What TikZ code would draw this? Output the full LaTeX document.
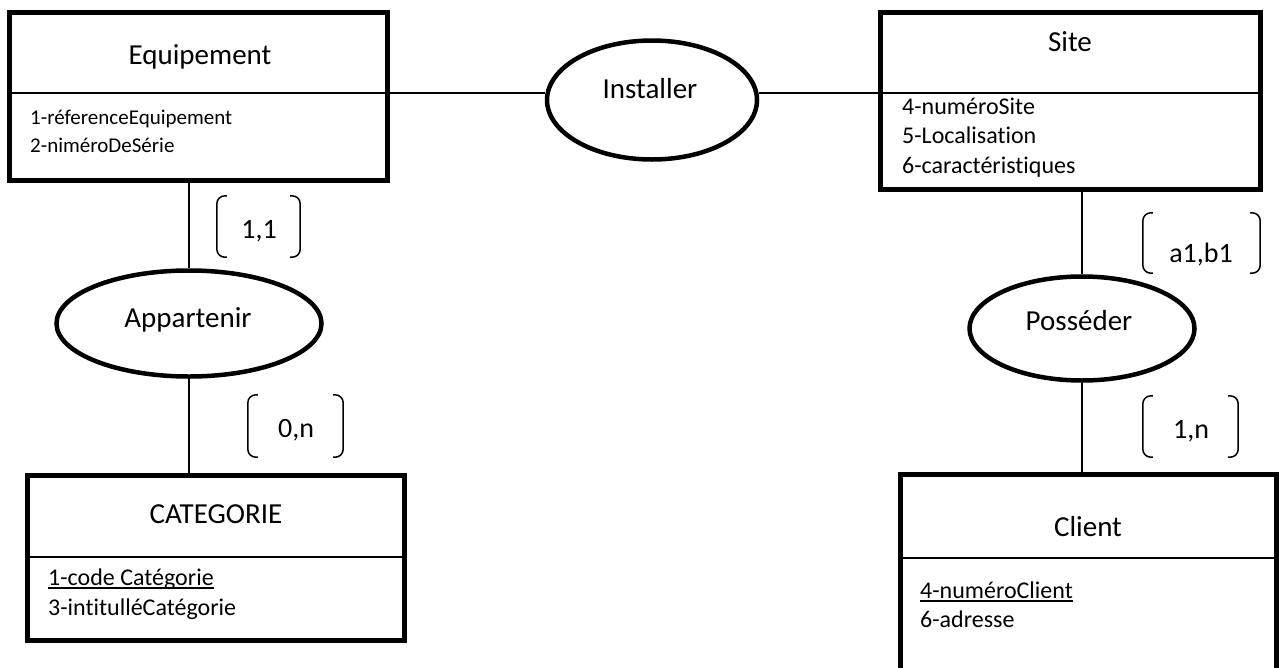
\documentclass[tikz,border=0pt]{standalone}
\usepackage{fontspec}
\setmainfont{Carlito}[Ligatures={NoCommon,NoContextual}]
\usetikzlibrary{shapes.geometric}
\newcommand{\myul}[1]{\setbox0\hbox{#1}\rlap{\rule[-3.75pt]{\wd0}{1.5pt}}\box0}
\newcommand{\mybrackets}[1]{%
  \draw[brk] ([xshift=10pt]#1.north west) -- (#1.north west) -- (#1.south west) -- ([xshift=10pt]#1.south west);
  \draw[brk] ([xshift=-10pt]#1.north east) -- (#1.north east) -- (#1.south east) -- ([xshift=-10pt]#1.south east);}
\begin{document}
\begin{tikzpicture}[x=1pt,y=-1pt,
  entity/.style={draw, rectangle, line width=5pt, inner sep=0pt},
  rel/.style={draw, ellipse, line width=4.5pt, inner sep=0pt, fill=white},
  conn/.style={line width=1.6pt},
  divl/.style={line width=2pt},
  title/.style={font=\fontsize{29}{35}\selectfont, anchor=base, inner sep=0pt},
  attrA/.style={font=\fontsize{21}{25}\selectfont, anchor=base west, inner sep=0pt},
  attrB/.style={font=\fontsize{24}{29}\selectfont, anchor=base west, inner sep=0pt},
  card/.style={font=\fontsize{28}{34}\selectfont, anchor=base, inner sep=0pt},
  brk/.style={line width=1.5pt, rounded corners=8pt},
  brkframe/.style={inner sep=0pt}]
\useasboundingbox (0,0) rectangle (1279,667);
\clip (0,0) rectangle (1279,667);
% entities
\node[entity, minimum width=378pt, minimum height=168pt] (eq) at (198.5,96.5) {};
\node[entity, minimum width=380pt, minimum height=177pt] (site) at (1070.5,101) {};
\node[entity, minimum width=377pt, minimum height=165pt] (cat) at (216,558) {};
\node[entity, minimum width=376pt, minimum height=245.5pt] (cli) at (1088.5,597.25) {};
% dividers
\coordinate (d1) at (0,93);
\coordinate (d2) at (0,557);
\coordinate (d3) at (0,558);
\draw[divl] (eq.west |- d1) -- (eq.east |- d1);
\draw[divl] (site.west |- d1) -- (site.east |- d1);
\draw[divl] (cat.west |- d2) -- (cat.east |- d2);
\draw[divl] (cli.west |- d3) -- (cli.east |- d3);
% relationships
\node[rel, minimum width=210pt, minimum height=119pt] (inst) at (652,100) {};
\node[rel, minimum width=265pt, minimum height=106pt] (app) at (189,323.5) {};
\node[rel, minimum width=225pt, minimum height=104pt] (pos) at (1082,328.5) {};
% connectors
\draw[conn] (eq.east |- d1) -- (inst.west |- d1);
\draw[conn] (inst.east |- d1) -- (site.west |- d1);
\draw[conn] (app.north |- eq.south) -- (app.north);
\draw[conn] (app.south) -- (app.south |- cat.north);
\draw[conn] (pos.north |- site.south) -- (pos.north);
\draw[conn] (pos.south) -- (pos.south |- cli.north);
% titles
\node[title] (teq) at (200,64) {Equipement};
\node[title] (tsite) at (1070,51) {Site};
\node[title] (tcat) at (216,523) {CATEGORIE};
\node[title] (tcli) at (1088,536) {Client};
\node[title] (tinst) at (650,98) {Installer};
\node[title] (tapp) at (188,327) {Appartenir};
\node[title] (tpos) at (1079,330) {Posséder};
% attributes
\node[attrA] (a1) at (30,124) {1-réferenceEquipement};
\node[attrA] (a2) at (30,152) {2-niméroDeSérie};
\node[attrB] (s1) at (902,114) {4-numéroSite};
\node[attrB] (s2) at (902,143) {5-Localisation};
\node[attrB] (s3) at (902,173) {6-caractéristiques};
\node[attrB] (c1) at (48,585) {\myul{1-code Catégorie}};
\node[attrB] (c2) at (48,615) {3-intitulléCatégorie};
\node[attrB] (k1) at (920,598) {\myul{4-numéroClient}};
\node[attrB] (k2) at (920,627) {6-adresse};
% cardinalities
\node[brkframe, minimum width=83pt, minimum height=61pt] (b11) at (258.5,226.5) {};
\node[brkframe, minimum width=95pt, minimum height=62pt] (b0n) at (295.5,426) {};
\node[brkframe, minimum width=117pt, minimum height=60pt] (bab) at (1201.5,243) {};
\node[brkframe, minimum width=95pt, minimum height=61pt] (b1n) at (1190.5,426.5) {};
\mybrackets{b11}
\mybrackets{b0n}
\mybrackets{bab}
\mybrackets{b1n}
\node[card] (l11) at (259,238) {1,1};
\node[card] (l0n) at (296,437) {0,n};
\node[card] (lab) at (1201,262) {a1,b1};
\node[card] (l1n) at (1191,438) {1,n};
\end{tikzpicture}
\end{document}
